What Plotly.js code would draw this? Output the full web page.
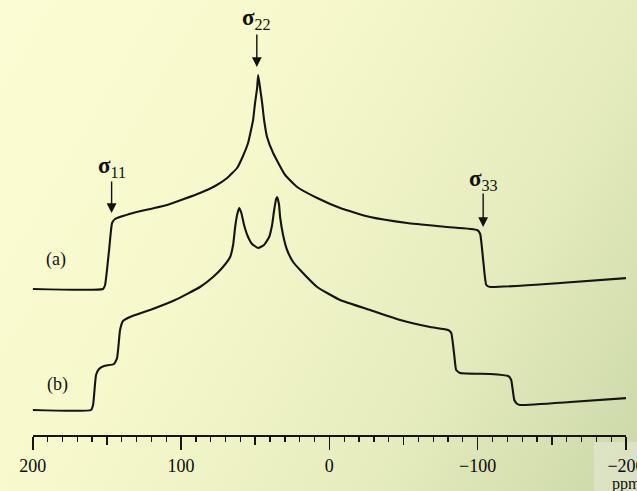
<!DOCTYPE html>
<html>
<head>
<meta charset="utf-8">
<script src="https://cdn.plot.ly/plotly-3.0.1.min.js"></script>
<style>
  html, body { margin: 0; padding: 0; }
  #chart {
    width: 637px; height: 491px;
    background: linear-gradient(120deg, #fbfcd3 0%, #f7f9cc 35%, #e6ecbe 70%, #cbd8a8 100%);
  }
</style>
</head>
<body>
<div id="chart"></div>
<script>
// Chemical shift (ppm) and intensity (arbitrary units)
const shiftA = [200, 152.6, 151.2, 148.5, 146.5, 144.5, 132.3, 109.4, 87.2, 77.0, 68.9, 62.2, 58.2, 54.8, 52.8, 51.4, 50.1, 48.7, 48.0, 46.7, 45.3, 44.0, 42.0, 37.9, 29.8, 21.7, 8.2, -7.3, -27.5, -52.5, -79.5, -99.7, -101.7, -103.7, -105.8, -108.5, -155.7, -201];
const intA   = [202, 202, 206, 241, 268, 272, 278, 286, 298, 305, 313, 323, 335, 348, 361, 371, 388, 403, 416, 403, 388, 371, 354, 338, 316, 304, 293, 283, 274, 268, 264, 261, 257, 231, 206, 204, 208, 213];

const shiftB = [200, 160.7, 159.3, 157.3, 155.3, 151.9, 145.2, 143.1, 141.1, 139.1, 134.4, 120.9, 104.0, 87.2, 78.4, 72.3, 66.9, 64.9, 63.5, 62.2, 60.8, 59.5, 57.5, 54.8, 52.1, 48.0, 44.0, 40.6, 38.6, 37.2, 35.9, 35.2, 33.9, 33.2, 31.2, 28.5, 24.4, 19.7, 8.2, -7.3, -27.5, -47.8, -68.0, -80.1, -82.2, -84.2, -85.5, -88.2, -108.5, -120.6, -122.6, -124.7, -126.7, -128.7, -162.4, -201];
const intB   = [81, 81, 86, 116, 122, 125, 127, 133, 161, 170, 174, 181, 191, 204, 214, 223, 234, 246, 264, 276, 283, 279, 266, 254, 247, 243, 246, 254, 266, 281, 292, 294, 286, 274, 256, 241, 229, 221, 204, 191, 181, 171, 164, 161, 158, 136, 121, 118, 117, 115, 111, 91, 87, 86, 89, 93];

const majorTicks = [200, 100, 0, -100, -200];
const mediumTicks = [150, 50, -50, -150];

// Principal tensor components (ppm) and their label positions
const sigmaNames = ['11', '22', '33'];
const sigmaShift = [146.8, 48.9, -103.7];
const sigmaTip   = [278, 424, 264];
const sigmaTail  = [311, 458, 299];
const sigmaLabel = [324, 472, 311];

const lineStyle = {color: '#141414', width: 2.1, shape: 'spline', smoothing: 0.4};

const traces = [
  {x: shiftA, y: intA, mode: 'lines', line: lineStyle, hoverinfo: 'skip'},
  {x: shiftB, y: intB, mode: 'lines', line: lineStyle, hoverinfo: 'skip'},
  {x: [], y: [], xaxis: 'x2', mode: 'lines', hoverinfo: 'skip'}
];

const serif = 'Liberation Serif, Times New Roman, serif';
const annotations = [];
sigmaNames.forEach((n, i) => {
  annotations.push({
    x: sigmaShift[i], y: sigmaLabel[i], xref: 'x', yref: 'y',
    text: '<b>σ</b><sub>' + n + '</sub>', showarrow: false,
    font: {family: serif, size: 23, color: '#111'}
  });
  annotations.push({
    x: sigmaShift[i], y: sigmaTip[i], xref: 'x', yref: 'y',
    ax: sigmaShift[i], ay: sigmaTail[i], axref: 'x', ayref: 'y',
    text: '', showarrow: true, arrowhead: 2, arrowsize: 1.4, arrowwidth: 1.4,
    arrowcolor: '#111', standoff: 0
  });
});
annotations.push({x: 184, y: 232, xref: 'x', yref: 'y', text: '(a)', showarrow: false,
  font: {family: serif, size: 18, color: '#111'}});
annotations.push({x: 183, y: 107, xref: 'x', yref: 'y', text: '(b)', showarrow: false,
  font: {family: serif, size: 18, color: '#111'}});
annotations.push({x: -200, y: 7, xref: 'x', yref: 'y', text: 'ppm', showarrow: false,
  font: {family: serif, size: 16, color: '#111'}});

const dom = [32.7 / 637, 626 / 637];
const axPos = (491 - 435) / 491;

const layout = {
  width: 637, height: 491,
  margin: {l: 0, r: 0, t: 0, b: 0},
  paper_bgcolor: 'rgba(0,0,0,0)',
  plot_bgcolor: 'rgba(0,0,0,0)',
  showlegend: false,
  xaxis: {
    range: [200, -200], domain: dom, anchor: 'free', position: axPos,
    showline: true, linecolor: '#141414', linewidth: 1.6,
    showgrid: false, zeroline: false,
    tickvals: majorTicks, ticks: 'outside', ticklen: 13, tickwidth: 1.6, tickcolor: '#141414',
    tickfont: {family: serif, size: 18, color: '#0a0a0a'}, ticklabelstandoff: 1,
    ticklabeloverflow: 'allow',
    minor: {dtick: 10, tick0: 0, ticks: 'outside', ticklen: 5, tickwidth: 1.3, tickcolor: '#141414', showgrid: false},
    fixedrange: true
  },
  xaxis2: {
    range: [200, -200], domain: dom, anchor: 'free', position: axPos, overlaying: 'x',
    showline: false, showgrid: false, zeroline: false,
    tickvals: mediumTicks, ticks: 'outside', ticklen: 9, tickwidth: 1.4, tickcolor: '#141414',
    showticklabels: false, fixedrange: true
  },
  yaxis: {range: [0, 491], visible: false, fixedrange: true},
  shapes: [
    {type: 'rect', xref: 'paper', yref: 'paper', x0: 594 / 637, x1: 1, y0: 0, y1: (491 - 442) / 491,
     fillcolor: 'rgba(240,240,234,0.4)', line: {width: 0}, layer: 'below'}
  ],
  annotations: annotations
};

Plotly.newPlot('chart', traces, layout, {displayModeBar: false, staticPlot: true});
</script>
</body>
</html>
